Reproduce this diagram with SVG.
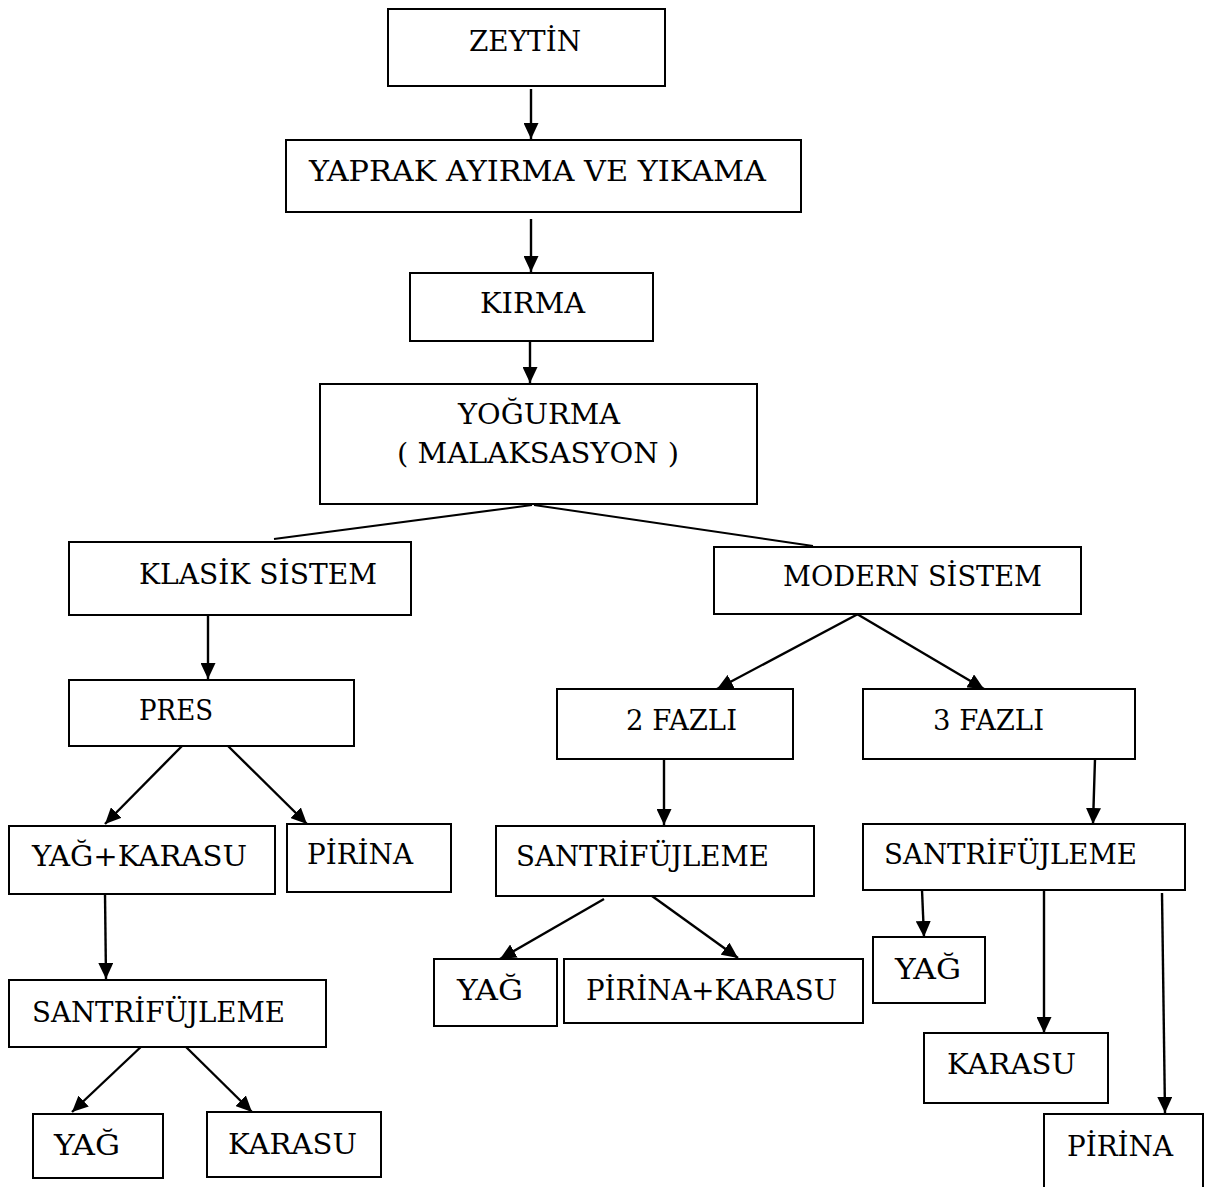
<svg xmlns="http://www.w3.org/2000/svg" width="1211" height="1187" viewBox="0 0 1211 1187">
<style>
rect{fill:#fff;stroke:#000;stroke-width:2}
text{font-family:'DejaVu Serif','Liberation Serif',serif;font-size:28px;fill:#000}
.c line{stroke:#000;stroke-width:2.4}
</style>
<defs>
<marker id="ah" markerUnits="userSpaceOnUse" markerWidth="16" markerHeight="15" refX="16" refY="7.5" orient="auto"><path d="M0,0 L16,7.5 L0,15 z" fill="#000"/></marker>
</defs>
<rect x="0" y="0" width="1211" height="1187" style="stroke:none"/>
<g class="c">
<line x1="531" y1="89" x2="531" y2="139" marker-end="url(#ah)"/>
<line x1="531" y1="219" x2="531" y2="272" marker-end="url(#ah)"/>
<line x1="530" y1="336" x2="530" y2="383" marker-end="url(#ah)"/>
<line x1="532" y1="505" x2="274" y2="539" style="stroke-width:2"/>
<line x1="534" y1="505" x2="813" y2="546" style="stroke-width:2"/>
<line x1="208" y1="615" x2="208" y2="679" marker-end="url(#ah)"/>
<line x1="182" y1="746" x2="105" y2="824" marker-end="url(#ah)"/>
<line x1="228" y1="746" x2="307" y2="824" marker-end="url(#ah)"/>
<line x1="105" y1="894" x2="106" y2="979" marker-end="url(#ah)"/>
<line x1="144" y1="1044" x2="72" y2="1112" marker-end="url(#ah)"/>
<line x1="185" y1="1046" x2="252" y2="1112" marker-end="url(#ah)"/>
<line x1="858" y1="614" x2="717" y2="689" marker-end="url(#ah)"/>
<line x1="857" y1="614" x2="984" y2="689" marker-end="url(#ah)"/>
<line x1="664" y1="759" x2="664" y2="825" marker-end="url(#ah)"/>
<line x1="1095" y1="759" x2="1093" y2="824" marker-end="url(#ah)"/>
<line x1="604" y1="899" x2="500" y2="959" marker-end="url(#ah)"/>
<line x1="652" y1="896" x2="738" y2="958" marker-end="url(#ah)"/>
<line x1="922" y1="890" x2="924" y2="937" marker-end="url(#ah)"/>
<line x1="1044" y1="888" x2="1044" y2="1033" marker-end="url(#ah)"/>
<line x1="1162" y1="893" x2="1165" y2="1113" marker-end="url(#ah)"/>
</g>
<g>
<g id="zeytin"><rect x="388" y="9" width="277" height="77"/><text x="469" y="51" textLength="112" lengthAdjust="spacingAndGlyphs">ZEYTİN</text></g>
<g id="yaprak"><rect x="286" y="140" width="515" height="72"/><text x="309" y="181" textLength="457" lengthAdjust="spacingAndGlyphs">YAPRAK AYIRMA VE YIKAMA</text></g>
<g id="kirma"><rect x="410" y="273" width="243" height="68"/><text x="480" y="313" textLength="105" lengthAdjust="spacingAndGlyphs">KIRMA</text></g>
<g id="yogurma"><rect x="320" y="384" width="437" height="120"/><text x="458" y="424" textLength="162" lengthAdjust="spacingAndGlyphs">YOĞURMA</text><text x="397" y="463" textLength="282" lengthAdjust="spacingAndGlyphs">( MALAKSASYON )</text></g>
<g id="klasik"><rect x="69" y="542" width="342" height="73"/><text x="139" y="584" textLength="238" lengthAdjust="spacingAndGlyphs">KLASİK SİSTEM</text></g>
<g id="modern"><rect x="714" y="547" width="367" height="67"/><text x="783" y="586" textLength="259" lengthAdjust="spacingAndGlyphs">MODERN SİSTEM</text></g>
<g id="pres"><rect x="69" y="680" width="285" height="66"/><text x="139" y="720" textLength="74" lengthAdjust="spacingAndGlyphs">PRES</text></g>
<g id="yagkarasu"><rect x="9" y="826" width="266" height="68"/><text x="32" y="866" textLength="215" lengthAdjust="spacingAndGlyphs">YAĞ+KARASU</text></g>
<g id="pirina1"><rect x="287" y="824" width="164" height="68"/><text x="307" y="864" textLength="106" lengthAdjust="spacingAndGlyphs">PİRİNA</text></g>
<g id="santri1"><rect x="9" y="980" width="317" height="67"/><text x="32" y="1022" textLength="253" lengthAdjust="spacingAndGlyphs">SANTRİFÜJLEME</text></g>
<g id="yag1"><rect x="33" y="1114" width="130" height="64"/><text x="54" y="1155" textLength="66" lengthAdjust="spacingAndGlyphs">YAĞ</text></g>
<g id="karasu1"><rect x="207" y="1112" width="174" height="65"/><text x="228" y="1154" textLength="129" lengthAdjust="spacingAndGlyphs">KARASU</text></g>
<g id="faz2"><rect x="557" y="689" width="236" height="70"/><text x="626" y="730" textLength="111" lengthAdjust="spacingAndGlyphs">2 FAZLI</text></g>
<g id="faz3"><rect x="863" y="689" width="272" height="70"/><text x="933" y="730" textLength="111" lengthAdjust="spacingAndGlyphs">3 FAZLI</text></g>
<g id="santri2"><rect x="496" y="826" width="318" height="70"/><text x="516" y="866" textLength="253" lengthAdjust="spacingAndGlyphs">SANTRİFÜJLEME</text></g>
<g id="santri3"><rect x="863" y="824" width="322" height="66"/><text x="884" y="864" textLength="253" lengthAdjust="spacingAndGlyphs">SANTRİFÜJLEME</text></g>
<g id="yag2"><rect x="434" y="959" width="123" height="67"/><text x="457" y="1000" textLength="66" lengthAdjust="spacingAndGlyphs">YAĞ</text></g>
<g id="pirinakarasu"><rect x="564" y="959" width="299" height="64"/><text x="586" y="1000" textLength="251" lengthAdjust="spacingAndGlyphs">PİRİNA+KARASU</text></g>
<g id="yag3"><rect x="873" y="937" width="112" height="66"/><text x="895" y="979" textLength="66" lengthAdjust="spacingAndGlyphs">YAĞ</text></g>
<g id="karasu3"><rect x="924" y="1033" width="184" height="70"/><text x="947" y="1074" textLength="129" lengthAdjust="spacingAndGlyphs">KARASU</text></g>
<g id="pirina3"><rect x="1044" y="1114" width="159" height="80"/><text x="1067" y="1156" textLength="106" lengthAdjust="spacingAndGlyphs">PİRİNA</text></g>
</g>
</svg>
